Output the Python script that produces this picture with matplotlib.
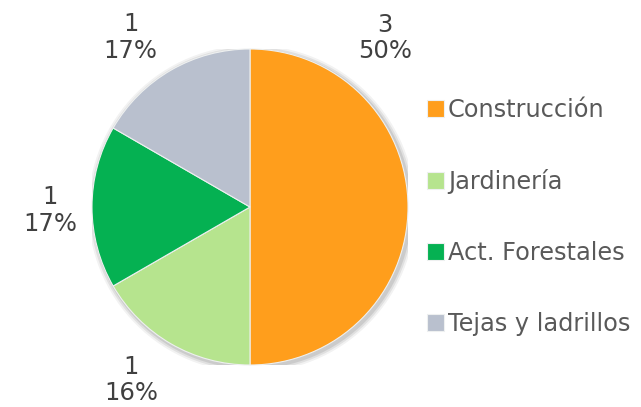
import matplotlib
matplotlib.use("Agg")
import matplotlib.pyplot as plt
from matplotlib.patches import Circle

categorias = ["Construcción", "Jardinería", "Act. Forestales", "Tejas y ladrillos"]
valores = [3, 1, 1, 1]
porcentajes = ["50%", "16%", "17%", "17%"]
colores = ["#FF9E1C", "#B6E48E", "#05B152", "#B9C0CE"]

# donde Excel coloca cada etiqueta (en radios del pastel)
pos_etiquetas = [(0.855, 1.07), (-0.75, -1.095), (-1.265, -0.02), (-0.755, 1.075)]

W, H = 641, 407
cx, cy, R = 250, 207, 158

fig = plt.figure(figsize=(W / 100, H / 100), dpi=100)
ax = fig.add_axes([(cx - R) / W, (H - cy - R) / H, 2 * R / W, 2 * R / H])

# sombra suave
for i, a in enumerate([0.05, 0.07, 0.09]):
    ax.add_patch(Circle((0.012, -0.012), 1.0 + 0.012 * (3 - i), color="black", alpha=a, zorder=0, lw=0))

etiquetas = ["{}\n{}".format(v, p) for v, p in zip(valores, porcentajes)]
wedges, textos = ax.pie(valores, colors=colores, startangle=90, counterclock=False,
                        labels=etiquetas, labeldistance=1.3,
                        wedgeprops=dict(edgecolor="#eef0f0", linewidth=0.8, zorder=2),
                        textprops=dict(fontsize=17.5, color="#404040",
                                       ha="center", va="center", linespacing=1.15))
for t, p in zip(textos, pos_etiquetas):
    t.set_position(p)

ax.set_xlim(-1, 1)
ax.set_ylim(-1, 1)
ax.set_aspect("equal")
ax.axis("off")

leg = ax.legend(wedges, categorias, loc="center left", bbox_to_anchor=(1.03, 0.468),
                frameon=False, fontsize=17.3, labelcolor="#595959",
                handlelength=0.72, handleheight=0.72, handletextpad=0.15,
                labelspacing=1.96, borderaxespad=0)

fig.savefig("out.png", dpi=100)
